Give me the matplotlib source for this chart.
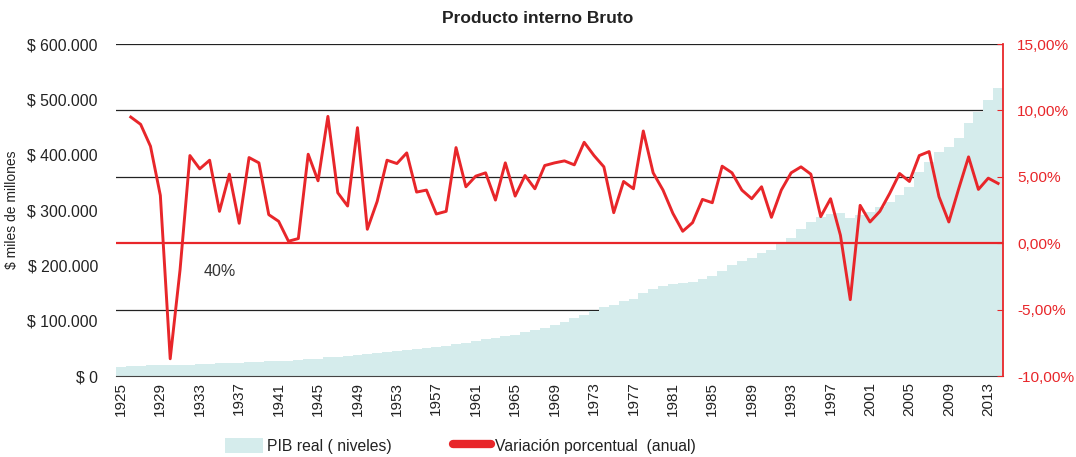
import matplotlib.pyplot as plt
from matplotlib.patches import Patch
from matplotlib.lines import Line2D
import numpy as np

plt.rcParams['font.family'] = ['Liberation Sans', 'DejaVu Sans']

# PIB real (miles de millones), 1925-2014
years = np.arange(1925, 2015)
pib = [
    17000, 17800, 18600, 19300, 19800, 19400, 19800, 20600, 21400, 22200,
    22800, 23600, 24100, 25200, 26200, 26900, 27500, 28000, 28400, 30000,
    31500, 33500, 35000, 36200, 38500, 39500, 41000, 43000, 45500, 47500,
    49500, 51500, 53000, 54500, 57500, 60000, 63000, 66000, 68500, 72000,
    75000, 79000, 82500, 87000, 92500, 98500, 104000, 110000, 117000, 125000,
    129000, 135000, 140000, 150000, 157000, 162000, 165500, 167500, 170000, 176000,
    181000, 190000, 200000, 208000, 214000, 223000, 228000, 238000, 250000, 265000,
    279000, 288000, 293000, 295000, 285000, 291000, 297000, 305000, 315000, 328000,
    342000, 368000, 387000, 405000, 413000, 430000, 458000, 478000, 499000, 520000,
]

# variacion porcentual anual, 1926-2014
var_years = np.arange(1926, 2015)
variacion = [
    9.5, 8.95, 7.3, 3.6, -8.7, -2.0, 6.6, 5.6, 6.25, 2.4,
    5.2, 1.5, 6.45, 6.05, 2.15, 1.65, 0.15, 0.35, 6.7, 4.7,
    9.55, 3.8, 2.8, 8.7, 1.05, 3.15, 6.25, 6.0, 6.8, 3.85,
    4.0, 2.2, 2.4, 7.2, 4.25, 5.05, 5.3, 3.25, 6.05, 3.55,
    5.1, 4.1, 5.85, 6.05, 6.2, 5.9, 7.6, 6.6, 5.75, 2.3,
    4.65, 4.1, 8.45, 5.3, 4.0, 2.25, 0.9, 1.55, 3.3, 3.05,
    5.8, 5.3, 4.0, 3.35, 4.25, 1.95, 4.0, 5.3, 5.75, 5.2,
    2.0, 3.35, 0.6, -4.25, 2.85, 1.6, 2.4, 3.75, 5.25, 4.65,
    6.6, 6.9, 3.5, 1.6, 4.1, 6.5, 4.05, 4.9, 4.5,
]

left_ticks = [0, 100000, 200000, 300000, 400000, 500000, 600000]
right_ticks = [-10, -5, 0, 5, 10, 15]
x_labels = list(range(1925, 2014, 4))

red = '#e8262a'
teal = '#d5ecec'

fig = plt.figure(figsize=(10.76, 4.57), dpi=100)
ax = fig.add_axes([0.1078, 0.1772, 0.8244, 0.7265])
ax2 = ax.twinx()

ax.set_xlim(1924.5, 2014.5)
ax.set_ylim(0, 600000)
ax2.set_ylim(-10, 15)

# gridlines follow the percentage scale, behind the bars
for p in right_ticks[1:]:
    if p == 0:
        continue
    ax.axhline((p + 10) / 25 * 600000, color='#222222', lw=0.9, zorder=0)

ax.bar(years, pib, width=1.0, color=teal, zorder=1)

ax2.axhline(0, color=red, lw=1.6, zorder=2)
ax2.plot(var_years, variacion, color=red, lw=2.1, zorder=3)

ax.set_yticks(left_ticks)
ax.set_yticklabels(['$ 0'] + ['$ ' + f'{v:,.0f}'.replace(',', '.') for v in left_ticks[1:]])
ax.tick_params(axis='y', length=0, labelsize=11.3, colors='#222222', pad=13)
ax.set_ylabel('$ miles de millones', fontsize=10, color='#222222', labelpad=6)

ax.set_xticks(x_labels)
ax.set_xticklabels([str(y) for y in x_labels], rotation=90)
ax.tick_params(axis='x', length=0, labelsize=11, colors='#222222', pad=4)

ax2.set_yticks(right_ticks)
ax2.set_yticklabels([f'{v:.2f}%'.replace('.', ',') for v in right_ticks])
ax2.tick_params(axis='y', direction='in', length=4, color=red, labelcolor=red,
                labelsize=11.1, pad=10)

for a in (ax, ax2):
    a.spines['top'].set_visible(False)
    a.spines['left'].set_visible(False)
ax.spines['right'].set_visible(False)
ax.spines['bottom'].set_color('#444444')
ax2.spines['bottom'].set_visible(False)
ax2.spines['right'].set_color(red)
ax2.spines['right'].set_linewidth(1.3)

ax.text(1935, 188000, '40%', fontsize=11.5, color='#333333', ha='center', va='center')

fig.suptitle('Producto interno Bruto', x=0.5, y=0.975, fontsize=12.5,
             fontweight='bold', color='#222222')

handles = [Patch(facecolor=teal, edgecolor='none'),
           Line2D([0], [0], color=red, lw=6, solid_capstyle='round')]
fig.legend(handles, ['PIB real ( niveles)', 'Variación porcentual  (anual)'],
           loc='center', bbox_to_anchor=(0.428, 0.025), ncol=2, frameon=False,
           fontsize=11.3, handlelength=2.4, handleheight=1.1, handletextpad=0.3,
           columnspacing=3.9, labelcolor='#222222')

fig.savefig('out.png', dpi=100)
